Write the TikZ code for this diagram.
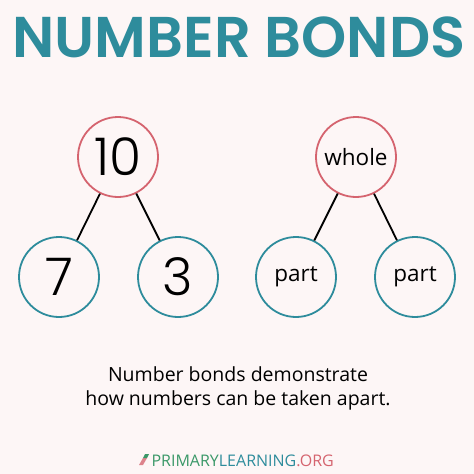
\documentclass[tikz,border=0pt]{standalone}
\usepackage{fontspec}
\setmainfont{Open Sans}
\newfontfamily\titlefont{Poppins}[UprightFont=* SemiBold]
\newfontfamily\digitfont{Poppins}[UprightFont=* Light]
\newfontfamily\footfont{Open Sans}
\definecolor{bg}{HTML}{FDF6F6}
\definecolor{tealc}{HTML}{2E8C9C}
\definecolor{redc}{HTML}{D5646F}
\definecolor{greenc}{HTML}{3A9868}
\tikzset{
  wholec/.style={circle,draw=redc,line width=1.8pt,minimum size=80pt,inner sep=0pt,fill=bg},
  partc/.style={circle,draw=tealc,line width=1.8pt,minimum size=80pt,inner sep=0pt,fill=bg},
  bond/.style={line width=1.8pt,black},
  digit/.style={font=\digitfont\fontsize{52}{52}\selectfont},
  word/.style={font=\fontsize{22.5}{22.5}\selectfont}
}
\begin{document}
\begin{tikzpicture}[x=1pt,y=-1pt]
\fill[bg] (0,0) rectangle (474,474);
\useasboundingbox (0,0) rectangle (474,474);
\node[text=tealc,font=\titlefont\fontsize{57.5}{57.5}\selectfont] (title) at (239,37) {NUMBER BONDS};
\node[wholec,digit] (ten) at (118,157) {10};
\node[partc,digit] (seven) at (59,277) {7};
\node[partc,digit] (three) at (178,277) {3};
\draw[bond] (ten) -- (seven);
\draw[bond] (ten) -- (three);
\node[wholec,word] (whole) at (356,157) {whole};
\node[partc,word] (partl) at (296,277) {part};
\node[partc,word] (partr) at (415,277) {part};
\draw[bond] (whole) -- (partl);
\draw[bond] (whole) -- (partr);
\node[align=center,font=\fontsize{19.5}{24}\selectfont] (caption) at (238,388) {Number bonds demonstrate\\how numbers can be taken apart.};
\node[font=\footfont\fontsize{16}{16}\selectfont,anchor=west] (footer) at (148,461) {\textcolor{greenc}{PRIMARY}\textcolor{tealc}{LEARNING}\textcolor{redc}{.ORG}};
\fill[redc!80] (139,465) -- (143,458) -- (147,458) -- (143,465) -- cycle;
\fill[greenc] (143,458) -- (145,454) -- (149,454) -- (147,458) -- cycle;
\end{tikzpicture}
\end{document}
